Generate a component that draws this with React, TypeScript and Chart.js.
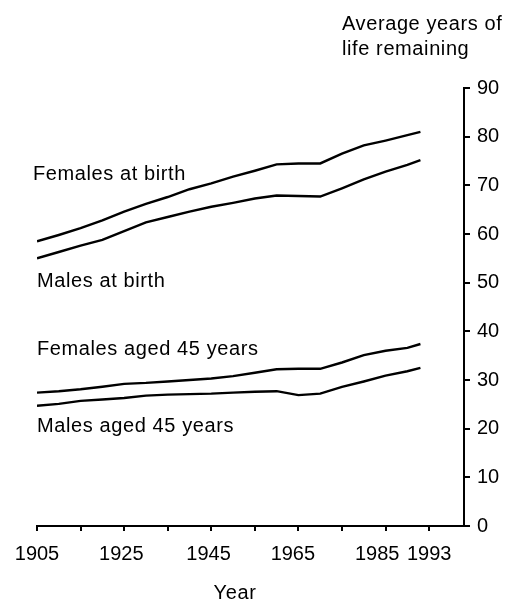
import { useEffect, useRef } from 'react';
import { Chart, registerables } from 'chart.js';

Chart.register(...registerables);

const years = [1905, 1910, 1915, 1920, 1925, 1930, 1935, 1940, 1945, 1950, 1955, 1960, 1965, 1970, 1975, 1980, 1985, 1990, 1993];
const femalesAtBirth = [58.5, 59.8, 61.2, 62.8, 64.6, 66.2, 67.6, 69.2, 70.4, 71.8, 73.0, 74.3, 74.5, 74.5, 76.5, 78.2, 79.2, 80.3, 81.0];
const malesAtBirth = [55.0, 56.3, 57.6, 58.8, 60.6, 62.4, 63.5, 64.6, 65.6, 66.4, 67.3, 67.9, 67.8, 67.7, 69.4, 71.2, 72.8, 74.2, 75.2];
const femalesAged45 = [27.4, 27.7, 28.1, 28.6, 29.2, 29.4, 29.7, 30.0, 30.3, 30.8, 31.5, 32.2, 32.3, 32.3, 33.6, 35.1, 36.0, 36.6, 37.4];
const malesAged45 = [24.7, 25.1, 25.7, 26.0, 26.3, 26.8, 27.0, 27.1, 27.2, 27.4, 27.6, 27.7, 26.9, 27.2, 28.6, 29.7, 30.9, 31.8, 32.5];

const seriesNames = ['Females at birth', 'Males at birth', 'Females aged 45 years', 'Males aged 45 years'];
const xTickValues = [1905, 1915, 1925, 1935, 1945, 1955, 1965, 1975, 1985, 1995];
const xTickLabels = ['1905', '', '1925', '', '1945', '', '1965', '', '1985', '1993'];
const yTickValues = [0, 10, 20, 30, 40, 50, 60, 70, 80, 90];
const yTitleLines = ['Average years of', 'life remaining'];
const xTitle = 'Year';

const FONT = "'Liberation Sans', Arial, Helvetica, sans-serif";
// trailing non-breaking spaces nudge centred labels left, as in the original
const xLabelPad = [0, 0, 1, 0, 1, 0, 2, 0, 3, 0];

const labelPlugin = {
  id: 'textLabels',
  afterDraw(chart: any) {
    const ctx = chart.ctx;
    ctx.save();
    ctx.fillStyle = '#000';
    ctx.font = `20px ${FONT}`;
    try { (ctx as any).letterSpacing = '0.6px'; } catch (e) {}
    ctx.textAlign = 'left';
    ctx.textBaseline = 'alphabetic';
    const pos = [
      [33, 180],
      [37, 287],
      [37, 355],
      [37, 432],
    ];
    seriesNames.forEach((n, i) => ctx.fillText(n, pos[i][0], pos[i][1]));
    ctx.fillText(yTitleLines[0], 342, 30);
    ctx.fillText(yTitleLines[1], 342, 55);
    ctx.textAlign = 'center';
    ctx.fillText(xTitle, 235, 599);
    ctx.restore();
  },
};

export default function App() {
  const ref = useRef<HTMLCanvasElement | null>(null);
  useEffect(() => {
    if (!ref.current) return;
    const mk = (vals: number[]) => years.map((y, i) => ({ x: y, y: vals[i] }));
    const ds = [femalesAtBirth, malesAtBirth, femalesAged45, malesAged45].map((v, i) => ({
      label: seriesNames[i],
      data: mk(v),
      borderColor: '#000',
      borderWidth: 2.4,
      pointRadius: 0,
      tension: 0,
      fill: false,
    }));
    const chart = new Chart(ref.current, {
      type: 'line',
      data: { datasets: ds },
      plugins: [labelPlugin],
      options: {
        animation: false,
        responsive: false,
        devicePixelRatio: 1,
        layout: { padding: { left: 37, top: 88, right: 0, bottom: 0 } },
        plugins: { legend: { display: false }, tooltip: { enabled: false } },
        scales: {
          x: {
            type: 'linear',
            min: 1905,
            max: 2003,
            afterBuildTicks: (s: any) => {
              s.ticks = xTickValues.map((v) => ({ value: v }));
            },
            afterFit: (s: any) => {
              s.height = 73;
            },
            grid: { drawOnChartArea: false, drawTicks: true, tickLength: 5, color: '#000', lineWidth: 2 },
            border: { display: true, color: '#000', width: 2 },
            ticks: {
              autoSkip: false,
              maxRotation: 0,
              padding: 11,
              color: '#000',
              font: { family: FONT, size: 20 },
              callback: (_v: any, i: number) => xTickLabels[i] ? xTickLabels[i] + '\u00a0'.repeat(xLabelPad[i]) : '',
            },
          },
          y: {
            position: 'right',
            min: 0,
            max: 90,
            afterBuildTicks: (s: any) => {
              s.ticks = yTickValues.map((v) => ({ value: v }));
            },
            afterFit: (s: any) => {
              s.width = 53;
            },
            grid: { drawOnChartArea: false, drawTicks: true, tickLength: 6, color: '#000', lineWidth: 2 },
            border: { display: true, color: '#000', width: 2 },
            ticks: {
              padding: 7,
              color: '#000',
              font: { family: FONT, size: 20 },
              callback: (v: any) => String(v),
            },
          },
        },
      },
    } as any);
    return () => chart.destroy();
  }, []);
  return (
    <div style={{ position: 'absolute', left: 0, top: 0, width: 517, height: 599, background: '#fff' }}>
      <canvas ref={ref} width={517} height={599} style={{ display: 'block' }} />
    </div>
  );
}
